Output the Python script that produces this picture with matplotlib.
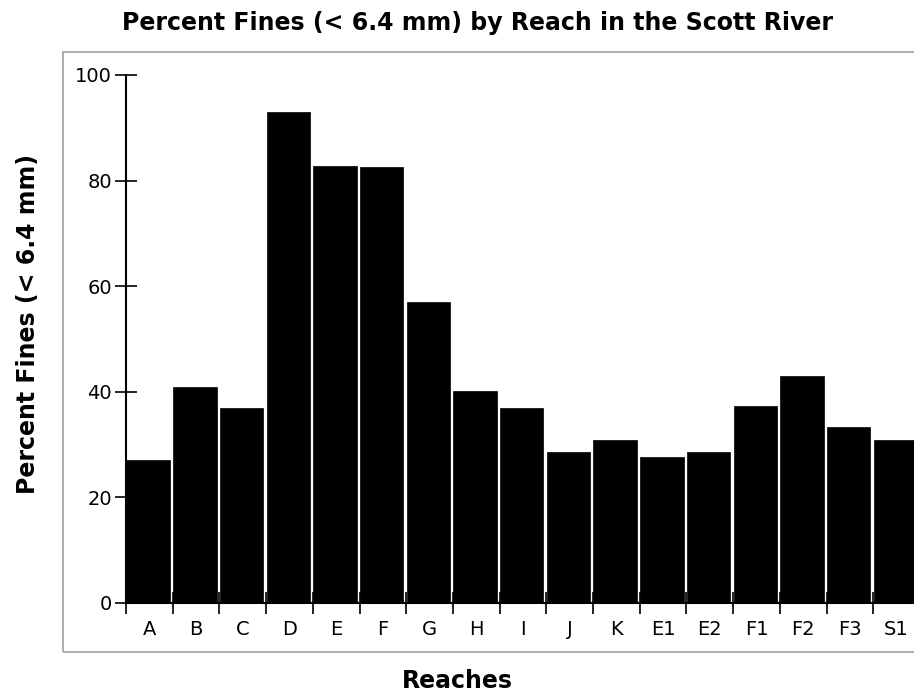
import matplotlib
matplotlib.use("Agg")
import matplotlib.pyplot as plt
from matplotlib.patches import Rectangle
from matplotlib.ticker import FixedLocator, NullFormatter, FixedFormatter

# percent fines per reach
reaches = ["A", "B", "C", "D", "E", "F", "G", "H", "I", "J", "K",
           "E1", "E2", "F1", "F2", "F3", "S1"]
fines = [27.0, 41.0, 36.9, 93.0, 82.8, 82.5, 57.0, 40.2, 36.9, 28.6, 30.8,
         27.7, 28.6, 37.3, 43.0, 33.4, 30.8]
y_ticks = [0, 20, 40, 60, 80, 100]

W, H = 914, 696
fig = plt.figure(figsize=(W / 100, H / 100), dpi=100)

# grey frame around the plot area (runs off the right edge)
fig.patches.append(Rectangle((63 / W, 1 - 652 / H), 1.0, 600 / H,
                             transform=fig.transFigure, fill=False,
                             edgecolor="#a0a0a0", linewidth=1.2))

ax = fig.add_axes([126 / W, 1 - 603 / H, (17 * 46.7) / W, 528 / H])

x = [i + 0.01 for i in range(len(reaches))]
ax.bar(x, fines, width=0.93, align="edge", color="black",
       edgecolor="black", linewidth=0.5, zorder=1)

ax.set_xlim(0, len(reaches))
ax.set_ylim(0, 100)

# ticks at the category boundaries, labels at the centres
ax.xaxis.set_major_locator(FixedLocator(range(len(reaches) + 1)))
ax.xaxis.set_major_formatter(NullFormatter())
ax.xaxis.set_minor_locator(FixedLocator([i + 0.5 for i in range(len(reaches))]))
ax.xaxis.set_minor_formatter(FixedFormatter(reaches))
ax.tick_params(axis="x", which="major", direction="inout", length=16,
               width=1.2, color="black")
ax.tick_params(axis="x", which="minor", length=0, pad=12, labelsize=14)

ax.set_yticks(y_ticks)
ax.tick_params(axis="y", direction="inout", length=16, width=1.2,
               pad=2, labelsize=14)

for side in ["top", "right"]:
    ax.spines[side].set_visible(False)
ax.spines["left"].set_linewidth(1.5)
ax.spines["bottom"].set_linewidth(1.5)
ax.spines["left"].set_zorder(3)

fig.text(477 / W, 1 - 23 / H, "Percent Fines (< 6.4 mm) by Reach in the Scott River",
         ha="center", va="center", fontsize=17, fontweight="bold")
fig.text(28 / W, 1 - 324 / H, "Percent Fines (< 6.4 mm)", rotation=90,
         ha="center", va="center", fontsize=17, fontweight="bold")
fig.text(457 / W, 1 - 681 / H, "Reaches", ha="center", va="center",
         fontsize=17, fontweight="bold")

fig.savefig("out.png", dpi=100)
